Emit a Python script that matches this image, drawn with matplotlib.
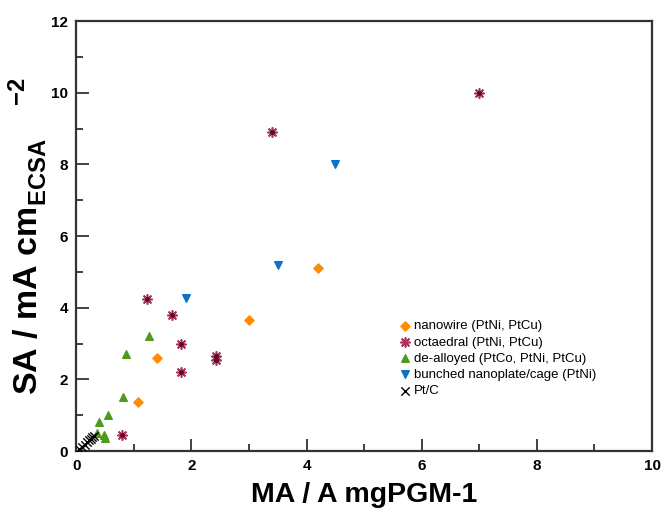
import matplotlib
matplotlib.use("Agg")
import matplotlib.pyplot as plt

plt.rcParams['font.family'] = ['Liberation Sans', 'DejaVu Sans']
plt.rcParams['mathtext.fontset'] = 'custom'
plt.rcParams['mathtext.rm'] = 'Liberation Sans:bold'
plt.rcParams['mathtext.bf'] = 'Liberation Sans:bold'
plt.rcParams['mathtext.default'] = 'bf'

# Data
nanowire_x = [4.2, 3.0, 1.4, 1.07]
nanowire_y = [5.1, 3.65, 2.61, 1.38]

octa_x = [7.0, 3.4, 1.22, 1.67, 1.82, 1.82, 2.42, 2.42, 0.80]
octa_y = [10.0, 8.9, 4.25, 3.8, 3.0, 2.2, 2.65, 2.55, 0.45]

dealloy_x = [1.27, 0.86, 0.81, 0.55, 0.40, 0.35, 0.48, 0.50]
dealloy_y = [3.21, 2.71, 1.5, 1.0, 0.81, 0.51, 0.45, 0.36]

bunched_x = [4.5, 3.5, 1.9]
bunched_y = [8.0, 5.2, 4.28]

ptc_x = [0.05, 0.10, 0.15, 0.18, 0.22, 0.26, 0.28, 0.30]
ptc_y = [0.05, 0.11, 0.18, 0.25, 0.30, 0.33, 0.39, 0.42]

labels = ['nanowire (PtNi, PtCu)', 'octaedral (PtNi, PtCu)',
          'de-alloyed (PtCo, PtNi, PtCu)', 'bunched nanoplate/cage (PtNi)', 'Pt/C']

fig = plt.figure(figsize=(6.64, 5.15), dpi=100)
ax = fig.add_axes([0.115, 0.124, 0.867, 0.835])

ax.scatter(nanowire_x, nanowire_y, marker='D', s=22, color='#FF8C00',
           label=labels[0], zorder=3)
ax.scatter(octa_x, octa_y, marker=(8, 2, 0), s=45, color='#A83462',
           linewidths=1.2, label=labels[1], zorder=3)
ax.scatter(octa_x, octa_y, marker='o', s=6, color='#5A0A25', zorder=4)
ax.scatter(dealloy_x, dealloy_y, marker='^', s=30, color='#4E9A1C',
           label=labels[2], zorder=3)
ax.scatter(bunched_x, bunched_y, marker='v', s=30, color='#0A72C8',
           label=labels[3], zorder=3)
ax.scatter(ptc_x, ptc_y, marker='x', s=36, color='black', linewidths=1.0,
           label=labels[4], zorder=3)

ax.set_xlim(0, 10)
ax.set_ylim(0, 12)
ax.set_xticks([0, 2, 4, 6, 8, 10])
ax.set_yticks([0, 2, 4, 6, 8, 10, 12])
ax.set_xticks([1, 3, 5, 7, 9], minor=True)
ax.set_yticks([1, 3, 5, 7, 9, 11], minor=True)
ax.tick_params(which='both', direction='in', top=False, right=False,
               color='#333333', width=1.3)
ax.tick_params(which='major', length=9, labelsize=11, pad=6)
ax.tick_params(which='minor', length=5)
for lab in ax.get_xticklabels() + ax.get_yticklabels():
    lab.set_fontweight('bold')
for sp in ax.spines.values():
    sp.set_color('#333333')
    sp.set_linewidth(1.6)

ax.set_xlabel('MA / A mgPGM-1', fontsize=20.5, fontweight='bold', labelpad=6)
ax.set_ylabel(r'SA / mA cm$_{\mathbf{ECSA}}^{\ \ \ \ \ \ \ \ \ \ \ \ \ \mathbf{-2}}$',
              fontsize=24.5, fontweight='bold', labelpad=1)

leg = ax.legend(loc='upper left', bbox_to_anchor=(0.55, 0.317), frameon=False,
                fontsize=9.5, handletextpad=0.2, labelspacing=0.3,
                handlelength=1.0, borderaxespad=0)

fig.savefig('out.png', dpi=100)
